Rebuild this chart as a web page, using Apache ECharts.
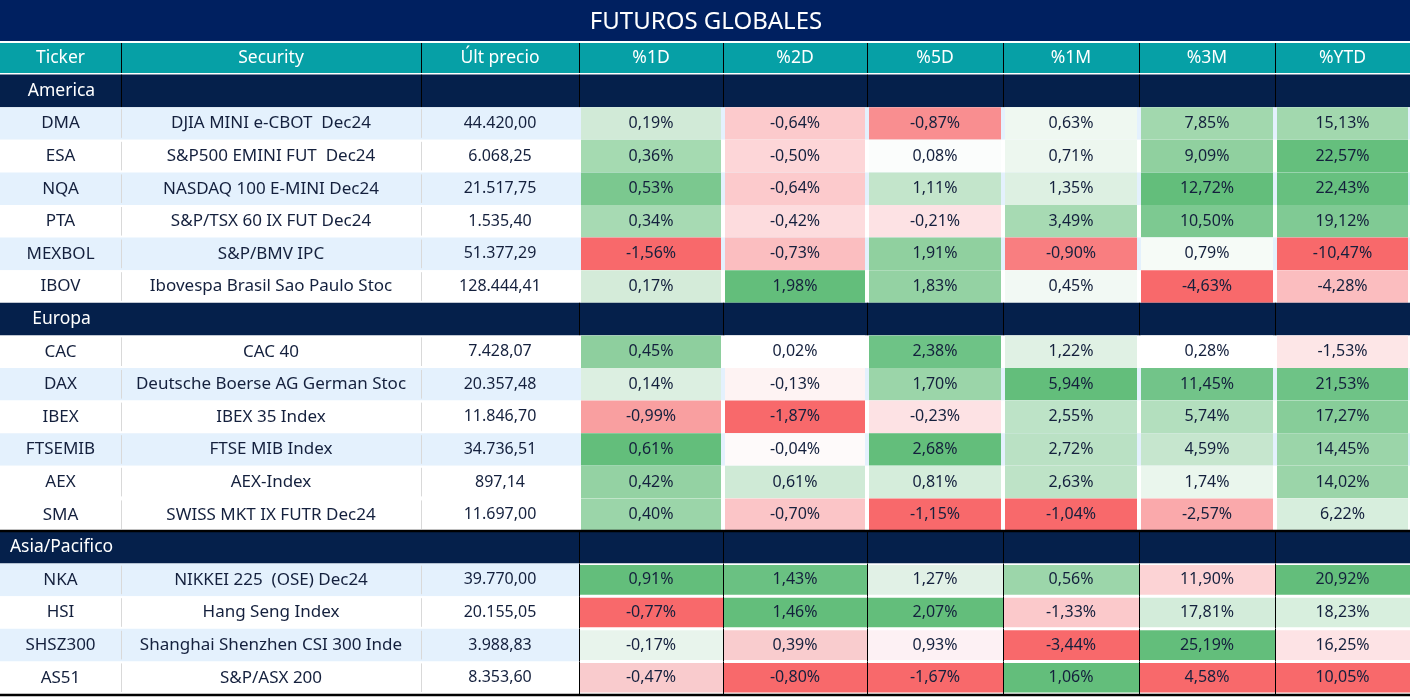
<!DOCTYPE html>
<html><head><meta charset="utf-8">
<script src="https://cdn.jsdelivr.net/npm/echarts@6/dist/echarts.min.js"></script>
<style>html,body{margin:0;padding:0;background:#fff}#c{width:1412px;height:697px}</style>
</head><body><div id="c"></div><script>
// ---------- DATA ----------
const titleText = 'FUTUROS GLOBALES';
const headers = ['Ticker', 'Security', 'Últ precio', '%1D', '%2D', '%5D', '%1M', '%3M', '%YTD'];
const regions = ['America', 'Europa', 'Asia/Pacifico'];
const regionCounts = [6, 6, 4];
const tickers = ['DMA', 'ESA', 'NQA', 'PTA', 'MEXBOL', 'IBOV',
  'CAC', 'DAX', 'IBEX', 'FTSEMIB', 'AEX', 'SMA',
  'NKA', 'HSI', 'SHSZ300', 'AS51'];
const securities = ['DJIA MINI e-CBOT  Dec24', 'S&P500 EMINI FUT  Dec24', 'NASDAQ 100 E-MINI Dec24',
  'S&P/TSX 60 IX FUT Dec24', 'S&P/BMV IPC', 'Ibovespa Brasil Sao Paulo Stoc',
  'CAC 40', 'Deutsche Boerse AG German Stoc', 'IBEX 35 Index', 'FTSE MIB Index', 'AEX-Index',
  'SWISS MKT IX FUTR Dec24',
  'NIKKEI 225  (OSE) Dec24', 'Hang Seng Index', 'Shanghai Shenzhen CSI 300 Inde', 'S&P/ASX 200'];
const prices = [44420.00, 6068.25, 21517.75, 1535.40, 51377.29, 128444.41,
  7428.07, 20357.48, 11846.70, 34736.51, 897.14, 11697.00,
  39770.00, 20155.05, 3988.83, 8353.60];
const pct1D = [0.19, 0.36, 0.53, 0.34, -1.56, 0.17, 0.45, 0.14, -0.99, 0.61, 0.42, 0.40, 0.91, -0.77, -0.17, -0.47];
const pct2D = [-0.64, -0.50, -0.64, -0.42, -0.73, 1.98, 0.02, -0.13, -1.87, -0.04, 0.61, -0.70, 1.43, 1.46, 0.39, -0.80];
const pct5D = [-0.87, 0.08, 1.11, -0.21, 1.91, 1.83, 2.38, 1.70, -0.23, 2.68, 0.81, -1.15, 1.27, 2.07, 0.93, -1.67];
const pct1M = [0.63, 0.71, 1.35, 3.49, -0.90, 0.45, 1.22, 5.94, 2.55, 2.72, 2.63, -1.04, 0.56, -1.33, -3.44, 1.06];
const pct3M = [7.85, 9.09, 12.72, 10.50, 0.79, -4.63, 0.28, 11.45, 5.74, 4.59, 1.74, -2.57, 11.90, 17.81, 25.19, 4.58];
const pctYTD = [15.13, 22.57, 22.43, 19.12, -10.47, -4.28, -1.53, 21.53, 17.27, 14.45, 14.02, 6.22, 20.92, 18.23, 16.25, 10.05];

// ---------- STYLE (conditional-format colours) ----------
const cellColors = [
  ['#D1EAD7', '#FCCACC', '#F98E90', '#EFF8F1', '#A2D8AE', '#A2D8AE'],
  ['#A5DAB1', '#FDD6D8', '#FBFDFC', '#EDF7EF', '#90D09F', '#65BF7D'],
  ['#7BC88F', '#FCCACC', '#C3E5CB', '#DDF0E2', '#63BE7B', '#67C07F'],
  ['#A7DAB3', '#FDDCDE', '#FDE2E4', '#A7DAB3', '#7DC991', '#80CA94'],
  ['#F8696B', '#FBBEC0', '#90D09F', '#F97E80', '#F6FBF7', '#F8696B'],
  ['#D4EBD9', '#63BE7B', '#94D2A3', '#F2F9F4', '#F8696B', '#FBBDBF'],
  ['#8ECF9E', '#FFFFFF', '#6EC386', '#E0F1E4', '#FFFFFF', '#FDE6E7'],
  ['#DCEFE1', '#FEF3F3', '#9BD5A9', '#63BE7B', '#72C489', '#6EC386'],
  ['#F99FA0', '#F8696B', '#FDE2E4', '#BDE3C7', '#B3DFBE', '#87CD99'],
  ['#63BE7B', '#FEFAFA', '#63BE7B', '#BAE1C4', '#C6E6CE', '#9BD5A9'],
  ['#94D2A3', '#CFEAD6', '#D5EDDB', '#BEE3C7', '#EAF6ED', '#9BD5A9'],
  ['#9BD5A9', '#FBC5C7', '#F8696B', '#F8696B', '#FAA9AB', '#D7EEDD'],
  ['#63BE7B', '#6AC182', '#E1F1E6', '#9CD6AA', '#FCD3D5', '#63BE7B'],
  ['#F8696B', '#63BE7B', '#63BE7B', '#FBC9CB', '#D3ECDA', '#D8EFDE'],
  ['#E8F4EC', '#F9CCCE', '#FDF1F4', '#F8696B', '#63BE7B', '#FDE3E5'],
  ['#F9CBCD', '#F8696B', '#F8696B', '#63BE7B', '#F8696B', '#F8696B']
];
const rowShaded = [1, 0, 1, 0, 1, 0, 0, 1, 0, 1, 0, 0, 1, 0, 1, 0];
const colEdges = [0, 121, 421, 579, 723, 867, 1003, 1139, 1275, 1410];
const C = {
  title: '#002060', header: '#06A0A6', region: '#05204B', shade: '#E4F1FD',
  text: '#14203D', grey: '#D9D9D9', black: '#000000'
};
const FONT = '"Noto Sans"';

// ---------- helpers ----------
function fmtNum(n) {
  const s = n.toFixed(2).split('.');
  return s[0].replace(/\B(?=(\d{3})+(?!\d))/g, '.') + ',' + s[1];
}
function fmtPct(v) { return v.toFixed(2).replace('.', ',') + '%'; }
const pctCols = [pct1D, pct2D, pct5D, pct1M, pct3M, pctYTD];

// ---------- build cells ----------
const rowIds = [];
const cells = [];
const seriesData = [];
function addCell(x0, x1, row, d) { cells.push(d); seriesData.push([x0, x1, row]); }

rowIds.push('header');
headers.forEach((h, i) => {
  addCell(colEdges[i], colEdges[i + 1], 0, { kind: 'header', text: h, fill: C.header, leftLine: i > 0 });
});

let k = 0;
regions.forEach((reg, ri) => {
  const rRow = rowIds.length; rowIds.push('region-' + ri);
  addCell(colEdges[0], colEdges[9], rRow, { kind: 'regionBg', fill: C.region, topBlack: ri === 2 });
  addCell(colEdges[0], colEdges[1], rRow, { kind: 'regionLabel', text: reg });
  for (let c = 1; c < 9; c++) {
    if (c >= 3 || ri === 0) addCell(colEdges[c], colEdges[c + 1], rRow, { kind: 'vline', color: C.black });
  }
  for (let j = 0; j < regionCounts[ri]; j++, k++) {
    const r = rowIds.length; rowIds.push(tickers[k]);
    const last = (k === tickers.length - 1);
    const asia = ri === 2;
    addCell(colEdges[0], asia ? colEdges[3] : colEdges[9], r, { kind: 'rowBg', fill: rowShaded[k] ? C.shade : '#FFFFFF', bottomBlack: last });
    if (asia) addCell(colEdges[3], colEdges[9], r, { kind: 'rowBg', fill: '#FFFFFF', bottomBlack: last });
    addCell(colEdges[0], colEdges[1], r, { kind: 'text', text: tickers[k], size: 17 });
    addCell(colEdges[1], colEdges[2], r, { kind: 'text', text: securities[k], leftGrey: true, size: 17 });
    addCell(colEdges[2], colEdges[3], r, { kind: 'text', text: fmtNum(prices[k]), leftGrey: true, size: 16 });
    for (let p = 0; p < 6; p++) {
      addCell(colEdges[3 + p], colEdges[4 + p], r, {
        kind: 'pct', text: fmtPct(pctCols[p][k]), fill: cellColors[k][p], asia: asia
      });
    }
  }
});

// ---------- render ----------
function renderItem(params, api) {
  const d = cells[params.dataIndex];
  const p0 = api.coord([api.value(0), api.value(2)]);
  const p1 = api.coord([api.value(1), api.value(2)]);
  const h = api.size([0, 1])[1];
  const x = p0[0], w = p1[0] - p0[0], y = p0[1] - h / 2, cy = p0[1];
  const kids = [];
  const txt = (s, cx, color, size) => ({
    type: 'text', style: {
      text: s, x: cx, y: cy, align: 'center', verticalAlign: 'middle',
      fill: color, font: 'normal ' + size + 'px ' + FONT
    }
  });
  if (d.kind === 'header') {
    kids.push({ type: 'rect', shape: { x: x, y: y + 1, width: w, height: h - 2.6 }, style: { fill: d.fill } });
    if (d.leftLine) kids.push({ type: 'line', shape: { x1: x + 0.5, y1: y + 1, x2: x + 0.5, y2: y + h - 1.6 }, style: { stroke: C.black, lineWidth: 1 } });
    kids.push(txt(d.text, x + w / 2, '#FFFFFF', 17.5));
  } else if (d.kind === 'regionBg') {
    kids.push({ type: 'rect', shape: { x: x, y: y, width: w, height: h }, style: { fill: d.fill } });
    if (d.topBlack) kids.push({ type: 'line', shape: { x1: x, y1: y, x2: x + w, y2: y }, style: { stroke: C.black, lineWidth: 2.5 } });
  } else if (d.kind === 'regionLabel') {
    kids.push(txt(d.text, x + w / 2 + 1, '#FFFFFF', 17.5));
  } else if (d.kind === 'vline') {
    kids.push({ type: 'line', shape: { x1: x + 0.5, y1: y, x2: x + 0.5, y2: y + h }, style: { stroke: d.color, lineWidth: 1 } });
  } else if (d.kind === 'rowBg') {
    kids.push({ type: 'rect', shape: { x: x, y: y, width: w, height: h }, style: { fill: d.fill } });
    if (d.bottomBlack) kids.push({ type: 'line', shape: { x1: x, y1: y + h + 1, x2: x + w, y2: y + h + 1 }, style: { stroke: C.black, lineWidth: 2.5 } });
  } else if (d.kind === 'text') {
    if (d.leftGrey) kids.push({ type: 'line', shape: { x1: x + 0.5, y1: y + 2, x2: x + 0.5, y2: y + h - 2 }, style: { stroke: C.grey, lineWidth: 1 } });
    kids.push(txt(d.text, x + w / 2, C.text, d.size));
  } else if (d.kind === 'pct') {
    if (d.asia) {
      kids.push({ type: 'rect', shape: { x: x + 1, y: y + 1.5, width: w - 1, height: h - 3 }, style: { fill: d.fill } });
      kids.push({ type: 'line', shape: { x1: x + 0.5, y1: y, x2: x + 0.5, y2: y + h }, style: { stroke: C.black, lineWidth: 1 } });
    } else {
      kids.push({ type: 'rect', shape: { x: x + 2, y: y, width: w - 4, height: h }, style: { fill: d.fill } });
    }
    kids.push(txt(d.text, x + w / 2, C.text, 16));
  }
  return { type: 'group', children: kids };
}

const chart = echarts.init(document.getElementById('c'), null, { renderer: 'canvas' });
chart.setOption({
  backgroundColor: '#FFFFFF',
  animation: false,
  title: {
    text: titleText, left: 'center', top: 5,
    textStyle: { color: '#FFFFFF', fontSize: 24, fontWeight: 'normal', fontFamily: 'Noto Sans' }
  },
  graphic: [{
    type: 'rect', left: 0, top: 0, z: -1,
    shape: { width: 1410, height: 41 }, style: { fill: C.title }
  }],
  grid: { left: 0, right: 0, top: 42, bottom: 3, containLabel: false },
  xAxis: { type: 'value', min: 0, max: 1412, show: false },
  yAxis: { type: 'category', data: rowIds, inverse: true, show: false },
  series: [{
    type: 'custom', renderItem: renderItem, data: seriesData, clip: false,
    encode: { x: [0, 1], y: 2 }, silent: true
  }]
});
</script></body></html>
